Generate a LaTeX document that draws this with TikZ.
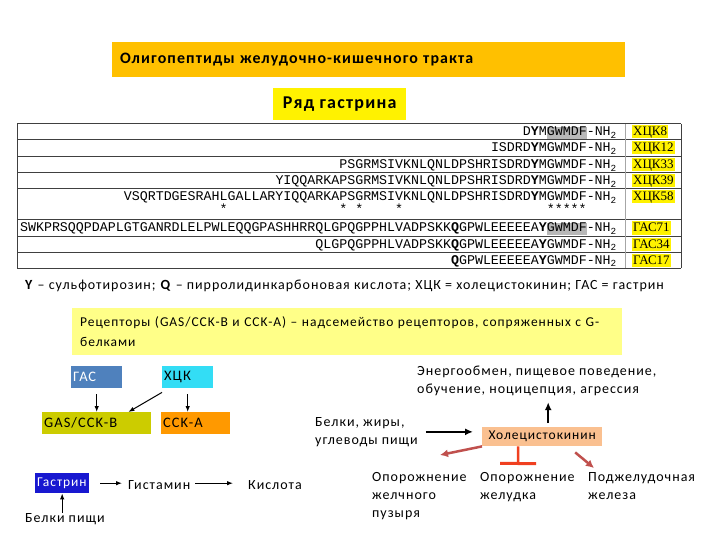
\documentclass[tikz,border=0pt]{standalone}
\usepackage{fontspec}
\setmainfont{Carlito}[LetterSpace=7]
\newfontfamily\seqfont{Liberation Mono}
\newfontfamily\labfont{Liberation Serif}
\usetikzlibrary{positioning,arrows.meta}

\definecolor{hdrorange}{HTML}{FFC000}
\definecolor{recyellow}{HTML}{FFFF88}
\definecolor{gasblue}{HTML}{4F81BD}
\definecolor{cckcyan}{HTML}{33DDF5}
\definecolor{gasbolive}{HTML}{CCCC00}
\definecolor{cckaorange}{HTML}{FF9900}
\definecolor{gastrinblue}{HTML}{1818D0}
\definecolor{cckpeach}{HTML}{FAC090}
\definecolor{effbrown}{HTML}{C0504D}
\definecolor{inhibred}{HTML}{F04020}
\definecolor{seqgray}{gray}{0.72}

\newcommand\grayseq[1]{{\setlength{\fboxsep}{0pt}\colorbox{seqgray}{\vphantom{Qy}#1}}}
\newcommand\skipch[1]{\hspace*{#1\dimexpr0.6em\relax}}
\newcommand\nhtwo{-NH\textsubscript{2}}
\newcommand\bY{\textbf{Y}}
\newcommand\bQ{\textbf{Q}}

\begin{document}
\begin{tikzpicture}[
  x=1pt, y=-1pt,
  hdr/.style={rectangle, fill=hdrorange, minimum height=35pt, text width=497pt, inner xsep=8pt,
              align=left, font=\bfseries\fontsize{15.9}{18}\selectfont},
  serbox/.style={rectangle, fill=yellow, minimum width=133pt, minimum height=32pt,
                 font=\bfseries\fontsize{18}{20}\selectfont},
  seq/.style={anchor=base east, inner sep=0pt, font=\seqfont\fontsize{13.3}{15}\selectfont},
  lab/.style={anchor=base west, fill=yellow, inner xsep=1pt, inner ysep=1.5pt, text height=9pt,
              text depth=1pt, font=\labfont\fontsize{13}{15}\selectfont},
  rule/.style={line width=1pt, black!75},
  recbox/.style={rectangle, fill=recyellow, minimum width=550pt, minimum height=47pt, text width=534pt,
                 inner xsep=8pt, align=left, font=\fontsize{13.5}{20}\selectfont},
  pep/.style={rectangle, anchor=north west, minimum height=22pt, inner xsep=2pt, align=left,
              font=\fontsize{14.5}{16}\selectfont},
  txt/.style={inner sep=0pt, align=left, font=\fontsize{14}{18}\selectfont},
  arr/.style={-{Latex[length=6pt,width=4.5pt]}, line width=1pt},
  thk/.style={-{Latex[length=8pt,width=7pt]}, line width=2pt},
  effect/.style={-{Latex[length=8pt,width=8pt]}, line width=2.5pt, effbrown},
  inhib/.style={-{Bar[width=36pt,line width=3pt]}, line width=2.5pt, inhibred},
]
  \fill[white] (0,0) rectangle (720,540);
  \useasboundingbox (0,0) rectangle (720,540);

  % Titles
  \node[hdr, anchor=north west] (title) at (112,42) {Олигопептиды желудочно-кишечного тракта};
  \node[serbox, anchor=north west] (series) at (273,88) {Ряд гастрина};

  % Table of sequences
  \foreach \yy in {124,140,157,173,189,220,236,252,268}
    \draw[rule] (17,\yy) -- (681,\yy);
  \draw[rule] (17,124) -- (17,268);
  \draw[black!35] (625,124) -- (625,268);
  \draw[rule] (681,124) -- (681,268);

  \node[seq] (k8) at (617,136) {D\bY{}M\grayseq{GWMDF}\nhtwo};
  \node[seq] (k12) at (617,152) {ISDRD\bY{}MGWMDF\nhtwo};
  \node[seq] (k33) at (617,169) {PSGRMSIVKNLQNLDPSHRISDRD\bY{}MGWMDF\nhtwo};
  \node[seq] (k39) at (617,185) {YIQQARKAPSGRMSIVKNLQNLDPSHRISDRD\bY{}MGWMDF\nhtwo};
  \node[seq] (k58) at (617,201) {VSQRTDGESRAHLGALLARYIQQARKAPSGRMSIVKNLQNLDPSHRISDRD\bY{}MGWMDF\nhtwo};
  \node[seq, anchor=base west] (stars) at ([yshift=-13pt]k58.base west)
    {\skipch{12}*\skipch{14}*\skipch{1}*\skipch{4}*\skipch{18}*****};
  \node[seq] (g71) at (617,232) {SWKPRSQQPDAPLGTGANRDLELPWLEQQGPASHHRRQLGPQGPPHLVADPSKK\bQ{}GPWLEEEEEA\bY{}\grayseq{GWMDF}\nhtwo};
  \node[seq] (g34) at (617,248) {QLGPQGPPHLVADPSKK\bQ{}GPWLEEEEEA\bY{}GWMDF\nhtwo};
  \node[seq] (g17) at (617,264) {\bQ{}GPWLEEEEEA\bY{}GWMDF\nhtwo};

  \node[lab] (lk8) at (632,136) {ХЦК8};
  \node[lab] (lk12) at (632,152) {ХЦК12};
  \node[lab] (lk33) at (632,169) {ХЦК33};
  \node[lab] (lk39) at (632,185) {ХЦК39};
  \node[lab] (lk58) at (632,201) {ХЦК58};
  \node[lab] (lg71) at (632,232) {ГАС71};
  \node[lab] (lg34) at (632,248) {ГАС34};
  \node[lab] (lg17) at (632,264) {ГАС17};

  % Legend and receptors
  \node[txt, anchor=base west] (legend) at (25,289)
    {\textbf{Y} – сульфотирозин; \textbf{Q} – пирролидинкарбоновая кислота; ХЦК = холецистокинин; ГАС = гастрин};
  \node[recbox, anchor=north west] (recep) at (72,308)
    {Рецепторы (GAS/CCK-B и CCK-A) – надсемейство рецепторов, сопряженных с G-\\белками};

  % Receptors and gastrin path
  \node[pep, fill=gasblue, text=white, text width=47pt] (gas) at (71,366) {ГАС};
  \node[pep, fill=cckcyan, text width=47pt] (hck) at (162,366) {ХЦК};
  \node[pep, fill=gasbolive, text width=105pt] (gasb) at (42,412) {GAS/CCK-B};
  \node[pep, fill=cckaorange, text width=65pt] (ccka) at (161,412) {CCK-A};
  \node[pep, fill=gastrinblue, text=white, minimum height=20pt, text width=50pt,
        font=\fontsize{13.5}{16}\selectfont] (gastrin) at (35,473) {Гастрин};
  \node[txt, anchor=base west] (hist) at (128,489) {Гистамин};
  \node[txt, anchor=base west] (acid) at (248,489) {Кислота};
  \node[txt, anchor=base west] (food) at (25,522) {Белки пищи};

  \draw[arr, shorten <=6pt] (gas.south) -- (gas.south |- gasb.north);
  \draw[arr] ([yshift=-4pt]hck.south west) -- ([xshift=-23pt]gasb.north east);
  \draw[arr, shorten <=6pt] (hck.south) -- (hck.south |- ccka.north);
  \draw[arr, shorten <=11pt, shorten >=6pt] (gastrin.east) -- (gastrin.east -| hist.west);
  \draw[arr, shorten <=5pt, shorten >=15pt] (hist.east |- gastrin.east) -- (gastrin.east -| acid.west);
  \draw[arr] (food.north -| gastrin.south) -- (gastrin.south);

  % Cholecystokinin effects
  \node[txt, anchor=north west] (energy) at (417,366) {Энергообмен, пищевое поведение,\\обучение, ноцицепция, агрессия};
  \node[txt, anchor=north west] (food2) at (315,417) {Белки, жиры,\\углеводы пищи};
  \node[rectangle, fill=cckpeach, minimum width=120pt, minimum height=19pt, inner sep=0pt,
        font=\fontsize{13.5}{15}\selectfont, anchor=north west] (cck) at (482,427) {Холецистокинин};
  \node[txt, anchor=north west] (gall) at (372,472) {Опорожнение\\желчного\\пузыря};
  \node[txt, anchor=north west] (stom) at (480,472) {Опорожнение\\желудка};
  \node[txt, anchor=north west] (panc) at (588,472) {Поджелудочная\\железа};
  \coordinate (galltip) at (440,455);
  \coordinate (stomtip) at (518,465);
  \coordinate (panctip) at (594,468);

  \draw[thk, shorten <=4pt, shorten >=6pt] ([xshift=6pt]cck.north) -- ([xshift=6pt]cck.north |- energy.south);
  \draw[thk, shorten <=8pt, shorten >=9pt] (food2.east) -- (food2.east -| cck.west);
  \draw[effect] (cck.south west) -- (galltip);
  \draw[inhib] ([xshift=-24pt]cck.south) -- (stomtip);
  \draw[effect] ([shift={(33pt,-6pt)}]cck.south) -- (panctip);
\end{tikzpicture}
\end{document}
